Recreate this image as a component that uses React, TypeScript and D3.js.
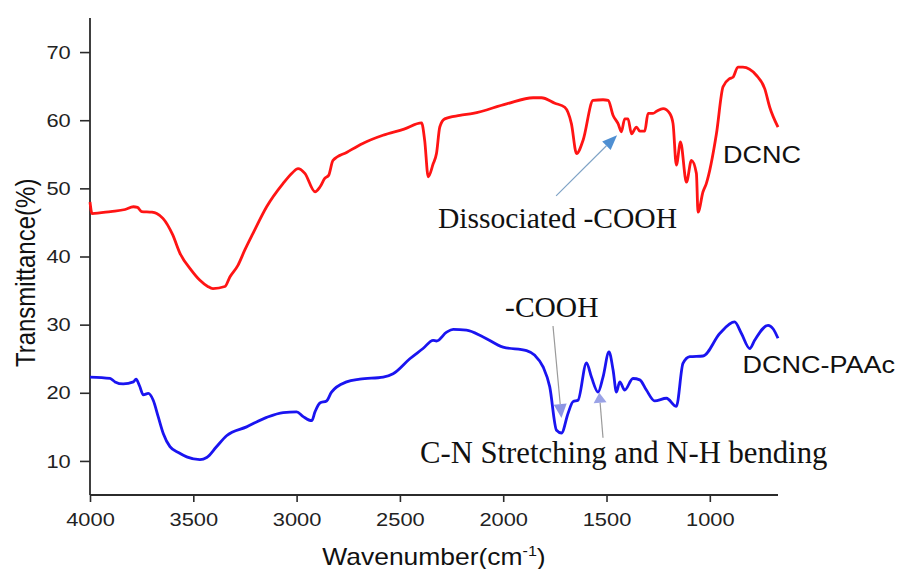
import { useEffect, useRef } from "react";
import * as d3 from "d3";

// DCNC (red)
const dcncWave = [4000, 3990, 3900, 3830, 3790, 3770, 3750, 3700, 3677, 3647, 3600, 3565, 3510, 3468, 3430, 3405, 3347, 3323, 3284, 3250, 3211, 3145, 3066, 3020, 2993, 2960, 2911, 2887, 2863, 2845, 2824, 2756, 2680, 2582, 2480, 2395, 2380, 2363, 2339, 2323, 2307, 2283, 2210, 2146, 1984, 1855, 1815, 1750, 1702, 1670, 1645, 1613, 1565, 1517, 1492, 1468, 1444, 1428, 1412, 1396, 1379, 1355, 1339, 1315, 1299, 1275, 1258, 1226, 1194, 1178, 1162, 1142, 1113, 1089, 1065, 1057, 1033, 1017, 968, 936, 904, 888, 864, 840, 775, 734, 710, 670];
const dcncT = [48.0, 46.3, 46.6, 46.9, 47.3, 47.2, 46.6, 46.5, 46.3, 45.6, 43.2, 40.5, 38.0, 36.5, 35.6, 35.3, 35.6, 37.0, 38.7, 41.0, 43.4, 47.3, 50.7, 52.3, 52.9, 52.2, 49.5, 50.2, 51.5, 51.9, 54.1, 55.3, 56.6, 57.8, 58.7, 59.6, 57.0, 51.7, 53.6, 55.1, 59.0, 60.2, 60.7, 61.0, 62.4, 63.3, 63.3, 62.5, 61.9, 59.5, 55.1, 57.1, 62.9, 63.0, 62.9, 60.7, 59.5, 58.3, 60.2, 60.2, 58.0, 59.0, 58.4, 58.4, 61.0, 61.0, 61.3, 61.7, 61.0, 59.5, 53.4, 56.8, 50.9, 54.1, 52.2, 46.5, 49.5, 50.7, 58.0, 64.9, 66.1, 66.3, 67.8, 67.8, 66.6, 64.6, 61.9, 59.0];

// DCNC-PAAc (blue)
const paacWave = [4000, 3903, 3879, 3839, 3790, 3777, 3760, 3742, 3718, 3694, 3670, 3645, 3613, 3570, 3532, 3468, 3435, 3390, 3339, 3242, 3145, 3065, 3000, 2968, 2927, 2911, 2887, 2855, 2831, 2758, 2694, 2581, 2533, 2452, 2388, 2339, 2323, 2274, 2242, 2178, 2097, 2001, 1887, 1847, 1807, 1775, 1742, 1718, 1686, 1662, 1638, 1597, 1573, 1541, 1517, 1488, 1468, 1452, 1436, 1412, 1372, 1339, 1307, 1267, 1210, 1162, 1130, 1097, 1033, 952, 880, 847, 807, 783, 718, 694, 670];
const paacT = [22.3, 22.1, 21.6, 21.3, 21.6, 22.0, 21.0, 19.7, 19.9, 18.9, 16.5, 14.0, 12.1, 11.2, 10.6, 10.2, 10.5, 12.0, 13.7, 15.0, 16.4, 17.1, 17.2, 16.5, 15.9, 17.2, 18.5, 18.8, 20.1, 21.6, 22.0, 22.3, 22.8, 25.0, 26.5, 27.7, 27.6, 28.9, 29.3, 29.2, 28.2, 26.7, 26.2, 25.5, 23.8, 20.9, 14.5, 14.1, 17.0, 18.7, 18.9, 24.4, 22.3, 20.1, 22.3, 26.0, 23.3, 20.1, 21.6, 20.4, 22.1, 21.9, 20.4, 18.8, 19.2, 18.0, 24.3, 25.3, 25.4, 28.7, 30.4, 28.7, 26.5, 27.7, 29.9, 29.4, 28.0];

const xMajor = [4000, 3500, 3000, 2500, 2000, 1500, 1000];
const xMinor = [3750, 3250, 2750, 2250, 1750, 1250, 750];
const yMajor = [10, 20, 30, 40, 50, 60, 70];
const yMinor = [5, 15, 25, 35, 45, 55, 65, 75];

const SX = 1.15; // the source image is stretched horizontally
const SANS = "'Liberation Sans', Arial, sans-serif";
const SERIF = "'Liberation Serif', 'Times New Roman', serif";

export default function App() {
  const ref = useRef<SVGSVGElement>(null);

  useEffect(() => {
    if (!ref.current) return;
    const svg = d3.select(ref.current);
    svg.selectAll("*").remove();
    const width = 906;
    const height = 569;

    const x = d3.scaleLinear().domain([4000, 670]).range([90, 778]);
    const y = d3.scaleLinear().domain([5, 75]).range([495, 18]);

    svg.append("rect").attr("width", width).attr("height", height).attr("fill", "#fff");

    // axes
    const axisColor = "#2b2b2b";
    const gx = svg.append("g").attr("transform", `translate(0,${y(5)})`);
    gx.call(d3.axisBottom(x).tickValues(xMinor).tickSize(4).tickFormat(() => ""));
    gx.call(d3.axisBottom(x).tickValues(xMajor).tickSize(7).tickPadding(10.5).tickFormat(d3.format("d")));
    gx.selectAll("text")
      .attr("transform", `scale(${SX},1)`)
      .style("font-family", SANS)
      .style("font-size", "19px")
      .style("fill", "#222");

    const gy = svg.append("g").attr("transform", `translate(${x(4000)},0)`);
    gy.call(d3.axisLeft(y).tickValues(yMinor).tickSize(5).tickFormat(() => ""));
    gy.call(d3.axisLeft(y).tickValues(yMajor).tickSize(10).tickPadding(6.8).tickFormat(d3.format("d")));
    gy.selectAll("text")
      .attr("transform", `scale(${SX},1)`)
      .style("font-family", SANS)
      .style("font-size", "19px")
      .style("fill", "#222");
    svg.selectAll(".domain").attr("d", null);
    svg.selectAll(".tick line").style("stroke", axisColor).style("stroke-width", 1.6);

    svg.append("line")
      .attr("x1", x(4000)).attr("x2", x(670)).attr("y1", y(5)).attr("y2", y(5))
      .style("stroke", axisColor).style("stroke-width", 1.8);
    svg.append("line")
      .attr("x1", x(4000)).attr("x2", x(4000)).attr("y1", y(5)).attr("y2", y(75))
      .style("stroke", axisColor).style("stroke-width", 1.8);

    // series
    const line = d3.line<[number, number]>()
      .x((d) => x(d[0]))
      .y((d) => y(d[1]))
      .curve(d3.curveMonotoneX);
    const series = [
      { wave: dcncWave, t: dcncT, color: "#ff1414" },
      { wave: paacWave, t: paacT, color: "#1a14f0" },
    ];
    series.forEach((s) => {
      const pts = s.wave.map((w, i) => [w, s.t[i]] as [number, number]);
      svg.append("path")
        .attr("d", line(pts))
        .attr("fill", "none")
        .attr("stroke", s.color)
        .attr("stroke-width", 2.8)
        .attr("stroke-linejoin", "round");
    });

    // axis titles
    svg.append("text")
      .attr("transform", `translate(35,${y(37.6)}) rotate(-90) scale(1,${SX})`)
      .attr("text-anchor", "middle")
      .style("font-family", SANS)
      .style("font-size", "24px")
      .style("fill", "#111")
      .text("Transmittance(%)");

    const xt = svg.append("text")
      .attr("transform", `translate(434,565) scale(${SX},1)`)
      .attr("text-anchor", "middle")
      .style("font-family", SANS)
      .style("font-size", "23px")
      .style("fill", "#111");
    xt.append("tspan").text("Wavenumber(cm");
    xt.append("tspan").attr("dy", -9).style("font-size", "14px").text("-1");
    xt.append("tspan").attr("dy", 9).text(")");

    // series labels
    const labels = [
      { text: "DCNC", w: 936, t: 53.7 },
      { text: "DCNC-PAAc", w: 842, t: 22.9 },
    ];
    labels.forEach((l) => {
      svg.append("text")
        .attr("transform", `translate(${x(l.w)},${y(l.t)}) scale(${SX},1)`)
        .style("font-family", SANS)
        .style("font-size", "23.5px")
        .style("fill", "#111")
        .text(l.text);
    });

    // annotations
    const notes = [
      { text: "Dissociated -COOH", w: 2316, t: 44.2, size: 29.6 },
      { text: "-COOH", w: 1991, t: 31.1, size: 29.5 },
      { text: "C-N Stretching and N-H bending", w: 2403, t: 9.7, size: 30.7 },
    ];
    notes.forEach((n) => {
      svg.append("text")
        .attr("x", x(n.w))
        .attr("y", y(n.t))
        .style("font-family", SERIF)
        .style("font-size", `${n.size}px`)
        .style("fill", "#111")
        .text(n.text);
    });

    const arrows = [
      { from: [1744, 48.9], to: [1449, 57.8], line: "#7fa3c6", head: "#4f8fd2", len: 15, half: 6 },
      { from: [1759, 29.8], to: [1718, 16.3], line: "#9a9a9a", head: "#8d95e4", len: 14, half: 6.5 },
      { from: [1517, 13.4], to: [1535, 20.0], line: "#9a9a9a", head: "#9aa2e6", len: 10, half: 6.5 },
    ];
    arrows.forEach((a) => {
      const x1 = x(a.from[0]), y1 = y(a.from[1]);
      const x2 = x(a.to[0]), y2 = y(a.to[1]);
      const dx = x2 - x1, dy = y2 - y1;
      const L = Math.hypot(dx, dy);
      const ux = dx / L, uy = dy / L;
      const bx = x2 - ux * a.len, by = y2 - uy * a.len;
      svg.append("line")
        .attr("x1", x1).attr("y1", y1).attr("x2", bx).attr("y2", by)
        .attr("stroke", a.line).attr("stroke-width", 1.2);
      svg.append("polygon")
        .attr("points", [
          [x2, y2],
          [bx - uy * a.half, by + ux * a.half],
          [bx + uy * a.half, by - ux * a.half],
        ].map((p) => p.join(",")).join(" "))
        .attr("fill", a.head);
    });
  }, []);

  return (
    <div style={{ position: "absolute", left: 0, top: 0 }}>
      <svg ref={ref} width={906} height={569} style={{ display: "block" }} />
    </div>
  );
}
